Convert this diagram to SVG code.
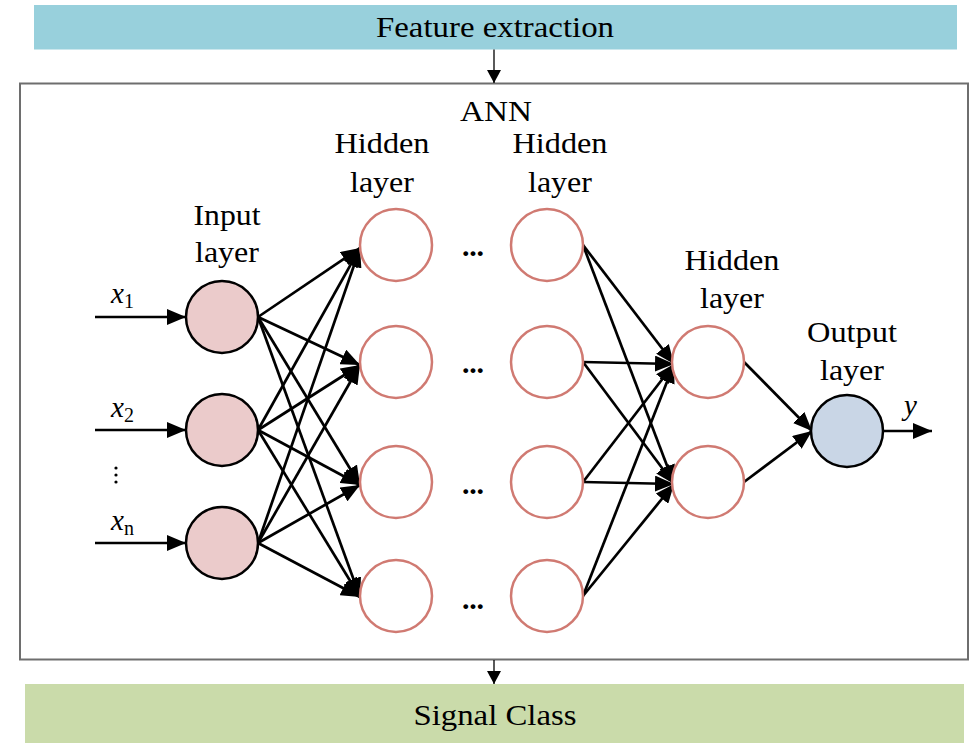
<svg xmlns="http://www.w3.org/2000/svg" width="974" height="743" viewBox="0 0 974 743">
<style>
.t{font-family:"Liberation Serif","Times New Roman",serif;font-size:30px;fill:#000;text-anchor:middle}
.v{font-family:"Liberation Serif","Times New Roman",serif;font-size:29px;fill:#000}
.sub{font-size:20px;font-style:normal}
.in{fill:#EBCBCB;stroke:#000;stroke-width:2.5}
.hid{fill:#fff;stroke:#D07A72;stroke-width:2.5}
.out{fill:#C9D6E6;stroke:#000;stroke-width:2.5}
.e{stroke:#000;stroke-width:2.7;fill:none;marker-end:url(#big)}
.thin{stroke:#000;stroke-width:1.3;fill:none;marker-end:url(#small)}
.dots{font-family:"Liberation Serif","Times New Roman",serif;font-size:30px;font-weight:bold;fill:#000}
</style>
<defs>
<marker id="big" markerUnits="userSpaceOnUse" markerWidth="20" markerHeight="16" refX="19" refY="8" orient="auto">
<path d="M0,0 L19,8 L0,16 z" fill="#000"/>
</marker>
<marker id="small" markerUnits="userSpaceOnUse" markerWidth="14" markerHeight="14" refX="13" refY="7" orient="auto">
<path d="M0,0 L13,7 L0,14 z" fill="#000"/>
</marker>
</defs>
<rect width="974" height="743" fill="#fff"/>

<g id="feature-extraction">
<rect x="34" y="5" width="923" height="44.5" fill="#98D0DC"/>
<text class="t" x="495" y="37" textLength="238" lengthAdjust="spacingAndGlyphs">Feature extraction</text>
</g>

<g id="ann">
<rect x="20" y="83.5" width="948" height="576" fill="none" stroke="#6E6E6E" stroke-width="2"/>
<text class="t" x="496" y="121" textLength="72" lengthAdjust="spacingAndGlyphs">ANN</text>
</g>

<g id="signal-class">
<rect x="25" y="684" width="939" height="59" fill="#CADBAA"/>
<text class="t" x="495" y="725" textLength="163" lengthAdjust="spacingAndGlyphs">Signal Class</text>
</g>

<g id="labels">
<text class="t" x="227" y="225" textLength="67" lengthAdjust="spacingAndGlyphs">Input</text>
<text class="t" x="227" y="262" textLength="64" lengthAdjust="spacingAndGlyphs">layer</text>
<text class="t" x="382" y="153" textLength="95" lengthAdjust="spacingAndGlyphs">Hidden</text>
<text class="t" x="382" y="192" textLength="64" lengthAdjust="spacingAndGlyphs">layer</text>
<text class="t" x="560" y="153" textLength="95" lengthAdjust="spacingAndGlyphs">Hidden</text>
<text class="t" x="560" y="192" textLength="64" lengthAdjust="spacingAndGlyphs">layer</text>
<text class="t" x="732" y="270" textLength="95" lengthAdjust="spacingAndGlyphs">Hidden</text>
<text class="t" x="732" y="308" textLength="64" lengthAdjust="spacingAndGlyphs">layer</text>
<text class="t" x="852" y="342" textLength="90" lengthAdjust="spacingAndGlyphs">Output</text>
<text class="t" x="852" y="380" textLength="64" lengthAdjust="spacingAndGlyphs">layer</text>
<text class="v" x="111" y="303" font-style="italic">x<tspan class="sub" dy="5">1</tspan></text>
<text class="v" x="111" y="417" font-style="italic">x<tspan class="sub" dy="5">2</tspan></text>
<text class="v" x="111" y="530" font-style="italic">x<tspan class="sub" dy="5">n</tspan></text>
<text class="v" x="904" y="415" font-style="italic">y</text>
<g fill="#000">
<circle cx="116" cy="468" r="1.6"/>
<circle cx="116" cy="475" r="1.6"/>
<circle cx="116" cy="482" r="1.6"/>
</g>
<text class="dots" x="462" y="256" textLength="22" lengthAdjust="spacing">...</text>
<text class="dots" x="462" y="373" textLength="22" lengthAdjust="spacing">...</text>
<text class="dots" x="462" y="494" textLength="22" lengthAdjust="spacing">...</text>
<text class="dots" x="462" y="609" textLength="22" lengthAdjust="spacing">...</text>
</g>

<g id="connectors">
<line class="thin" x1="494" y1="49.5" x2="494" y2="83"/>
<line class="thin" x1="494" y1="660" x2="494" y2="684"/>
<line class="e" x1="95" y1="317" x2="186" y2="317"/>
<line class="e" x1="95" y1="430" x2="186" y2="430"/>
<line class="e" x1="95" y1="543" x2="186" y2="543"/>
<line class="e" x1="258" y1="317" x2="360" y2="248"/>
<line class="e" x1="258" y1="317" x2="360" y2="365"/>
<line class="e" x1="258" y1="317" x2="360" y2="485"/>
<line class="e" x1="258" y1="317" x2="360" y2="597"/>
<line class="e" x1="258" y1="430" x2="360" y2="248"/>
<line class="e" x1="258" y1="430" x2="360" y2="365"/>
<line class="e" x1="258" y1="430" x2="360" y2="485"/>
<line class="e" x1="258" y1="430" x2="360" y2="597"/>
<line class="e" x1="258" y1="543" x2="360" y2="248"/>
<line class="e" x1="258" y1="543" x2="360" y2="365"/>
<line class="e" x1="258" y1="543" x2="360" y2="485"/>
<line class="e" x1="258" y1="543" x2="360" y2="597"/>
<line class="e" x1="583" y1="245" x2="674" y2="364"/>
<line class="e" x1="583" y1="245" x2="674" y2="484"/>
<line class="e" x1="583" y1="362" x2="674" y2="364"/>
<line class="e" x1="583" y1="362" x2="674" y2="484"/>
<line class="e" x1="583" y1="482" x2="674" y2="364"/>
<line class="e" x1="583" y1="482" x2="674" y2="484"/>
<line class="e" x1="583" y1="596" x2="674" y2="364"/>
<line class="e" x1="583" y1="596" x2="674" y2="484"/>
<line class="e" x1="744" y1="362" x2="812" y2="431"/>
<line class="e" x1="744" y1="482" x2="812" y2="431"/>
<line class="e" x1="883" y1="431" x2="932" y2="431"/>
</g>

<g id="input-1"><circle class="in" cx="222" cy="317" r="36"/></g>
<g id="input-2"><circle class="in" cx="222" cy="430" r="36"/></g>
<g id="input-n"><circle class="in" cx="222" cy="543" r="36"/></g>
<g id="h1-1"><circle class="hid" cx="396" cy="245" r="36"/></g>
<g id="h1-2"><circle class="hid" cx="396" cy="362" r="36"/></g>
<g id="h1-3"><circle class="hid" cx="396" cy="482" r="36"/></g>
<g id="h1-4"><circle class="hid" cx="396" cy="596" r="36"/></g>
<g id="h2-1"><circle class="hid" cx="547" cy="245" r="36"/></g>
<g id="h2-2"><circle class="hid" cx="547" cy="362" r="36"/></g>
<g id="h2-3"><circle class="hid" cx="547" cy="482" r="36"/></g>
<g id="h2-4"><circle class="hid" cx="547" cy="596" r="36"/></g>
<g id="h3-1"><circle class="hid" cx="708" cy="362" r="36"/></g>
<g id="h3-2"><circle class="hid" cx="708" cy="482" r="36"/></g>
<g id="output"><circle class="out" cx="847" cy="431" r="36"/></g>
</svg>
